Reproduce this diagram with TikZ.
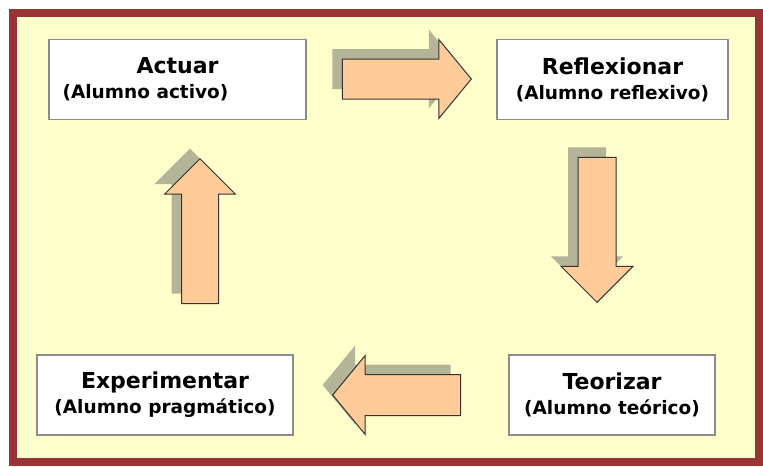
\documentclass[tikz,border=0pt]{standalone}
\usepackage{fontspec}
\setmainfont{DejaVu Sans}
\usetikzlibrary{shapes.arrows,shadows}

\definecolor{fondo}{RGB}{255,255,204}
\definecolor{marco}{RGB}{155,53,53}
\definecolor{durazno}{RGB}{255,204,153}
\definecolor{sombra}{RGB}{180,180,152}

\newcommand{\titulo}[1]{{\fontsize{22}{26}\selectfont #1}}

\tikzset{%
  caja/.style={draw=black!45, line width=1.3pt, fill=white, minimum height=80pt, align=center, inner sep=2pt, font=\bfseries\fontsize{18.5}{25}\selectfont},
  flecha/.style={single arrow, draw=black!80, line width=1pt, fill=durazno, drop shadow={shadow xshift=-10pt, shadow yshift=10pt, fill=sombra, opacity=1, draw=none}},
}

\begin{document}
\begin{tikzpicture}[x=1pt, y=-1pt]
\useasboundingbox (0,0) rectangle (763,466);
\draw[marco, line width=8.5pt, fill=fondo] (13,13) rectangle (759,462);
% cajas
\node[caja, minimum width=257pt] (act) at (177.5,79.5) {\titulo{Actuar}\\(Alumno activo)\hspace*{64pt}};
\node[caja, minimum width=231pt] (ref) at (612.5,79.5) {\titulo{Reflexionar}\\(Alumno reflexivo)};
\node[caja, minimum width=206pt] (teo) at (612,395) {\titulo{Teorizar}\\(Alumno teórico)};
\node[caja, minimum width=256pt] (exp) at (165,395) {\titulo{Experimentar}\\(Alumno pragmático)};
% flechas
\node[flecha, inner sep=19.5pt, single arrow head extend=19.5pt, single arrow tip angle=101, minimum height=129pt, anchor=tip] (fder) at (472,79) {};
\node[flecha, inner sep=18.5pt, single arrow head extend=17pt, single arrow tip angle=90, minimum height=145pt, shape border rotate=270, anchor=tip] (fabj) at (597,303) {};
\node[flecha, inner sep=20pt, single arrow head extend=19pt, single arrow tip angle=101, minimum height=128pt, shape border rotate=180, anchor=tip] (fizq) at (332,395) {};
\node[flecha, inner sep=18pt, single arrow head extend=17pt, single arrow tip angle=90, minimum height=145pt, shape border rotate=90, anchor=tip] (farr) at (200,158) {};
\end{tikzpicture}
\end{document}
